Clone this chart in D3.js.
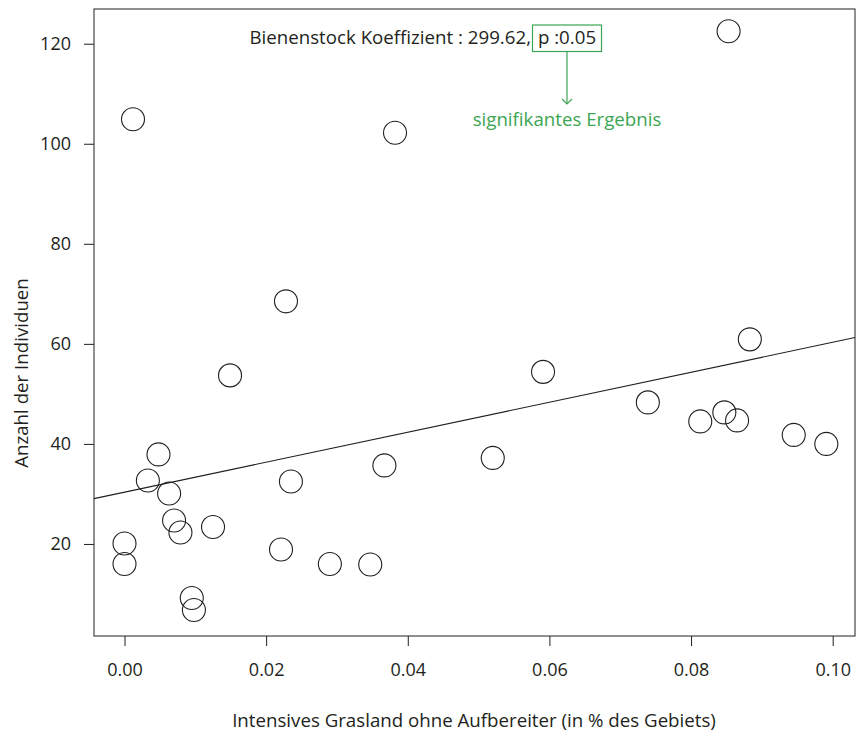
<!DOCTYPE html>
<html>
<head>
<meta charset="utf-8">
<script src="https://cdn.jsdelivr.net/npm/d3@7"></script>
<style>
  body { margin: 0; background: #fff; }
  text { font-family: "Open Sans", "Noto Sans", sans-serif; fill: #231f20; }
</style>
</head>
<body>
<div id="chart"></div>
<script>
const width = 858;
const height = 734;

// share of intensive grassland (x) and number of individuals (y)
const grassland = [0.0012, 0.0382, 0.0853, 0.0228, 0.0149, 0.0591, 0.0883, 0.0739, 0.0847,
    0.0813, 0.0865, 0.0945, 0.0991, 0.0520, 0.0367, 0.0235, 0.0048, 0.0033, 0.0063,
    0.0070, 0.0079, 0.0125, 0.0000, 0.0000, 0.0221, 0.0290, 0.0347, 0.0095, 0.0098];
const individuals = [104.9, 102.2, 122.5, 68.5, 53.7, 54.4, 60.9, 48.3, 46.3,
    44.5, 44.7, 41.8, 40.0, 37.2, 35.7, 32.5, 37.9, 32.7, 30.1,
    24.7, 22.3, 23.4, 20.1, 16.0, 18.9, 16.0, 15.9, 9.2, 6.8];

const xTicks = [0, 0.02, 0.04, 0.06, 0.08, 0.10];
const yTicks = [20, 40, 60, 80, 100, 120];

// fitted line
const intercept = 30.35;
const slope = 299.62;

const plot = { left: 94, right: 855, top: 9, bottom: 636 };

const svg = d3.select("#chart")
    .append("svg")
    .attr("width", width)
    .attr("height", height);

const x = d3.scaleLinear()
    .domain([-0.004307, 0.10315])
    .range([plot.left, plot.right]);

const y = d3.scaleLinear()
    .domain([1.6, 126.94])
    .range([plot.bottom, plot.top]);

// box
svg.append("rect")
    .attr("x", plot.left)
    .attr("y", plot.top)
    .attr("width", plot.right - plot.left)
    .attr("height", plot.bottom - plot.top)
    .attr("fill", "none")
    .attr("stroke", "#231f20")
    .attr("stroke-width", 1);

const xAxis = svg.append("g")
    .attr("transform", `translate(0,${plot.bottom})`)
    .call(d3.axisBottom(x).tickValues(xTicks).tickFormat(d3.format(".2f"))
        .tickSize(10).tickSizeOuter(0).tickPadding(17));

const yAxis = svg.append("g")
    .attr("transform", `translate(${plot.left},0)`)
    .call(d3.axisLeft(y).tickValues(yTicks).tickFormat(d3.format("d"))
        .tickSize(10).tickSizeOuter(0).tickPadding(13));

[xAxis, yAxis].forEach(g => {
    g.select(".domain").remove();
    g.selectAll(".tick line").attr("stroke", "#231f20");
    g.selectAll(".tick text")
        .attr("font-family", null)
        .attr("font-size", "18px")
        .attr("fill", "#231f20");
});

// regression line
const lineData = x.domain().map(v => [v, intercept + slope * v]);
svg.append("path")
    .attr("d", d3.line().x(d => x(d[0])).y(d => y(d[1]))(lineData))
    .attr("fill", "none")
    .attr("stroke", "#231f20")
    .attr("stroke-width", 1.1);

// points
svg.selectAll("circle.pt")
    .data(grassland.map((g, i) => [g, individuals[i]]))
    .enter()
    .append("circle")
    .attr("class", "pt")
    .attr("cx", d => x(d[0]))
    .attr("cy", d => y(d[1]))
    .attr("r", 11.5)
    .attr("fill", "none")
    .attr("stroke", "#231f20")
    .attr("stroke-width", 1.1);

// axis titles
svg.append("text")
    .attr("x", 474)
    .attr("y", 727)
    .attr("text-anchor", "middle")
    .attr("font-size", "18.7px")
    .text("Intensives Grasland ohne Aufbereiter (in % des Gebiets)");

svg.append("text")
    .attr("transform", "translate(28,373) rotate(-90)")
    .attr("text-anchor", "middle")
    .attr("font-size", "18.7px")
    .text("Anzahl der Individuen");

// annotation
const green = "#3da653";
svg.append("text")
    .attr("x", 531)
    .attr("y", 44)
    .attr("text-anchor", "end")
    .attr("font-size", "18.7px")
    .text("Bienenstock Koeffizient : 299.62,");

svg.append("rect")
    .attr("x", 532.5)
    .attr("y", 25)
    .attr("width", 69)
    .attr("height", 26.5)
    .attr("fill", "none")
    .attr("stroke", green)
    .attr("stroke-width", 1.2);

svg.append("text")
    .attr("x", 567)
    .attr("y", 44)
    .attr("text-anchor", "middle")
    .attr("font-size", "18.7px")
    .text("p :0.05");

svg.append("line")
    .attr("x1", 567).attr("y1", 51.5)
    .attr("x2", 567).attr("y2", 104)
    .attr("stroke", green)
    .attr("stroke-width", 1.2);

svg.append("path")
    .attr("d", "M562,99 L567,104 L572,99")
    .attr("fill", "none")
    .attr("stroke", green)
    .attr("stroke-width", 1.2);

svg.append("text")
    .attr("x", 567)
    .attr("y", 126)
    .attr("text-anchor", "middle")
    .attr("font-size", "18.7px")
    .style("fill", green)
    .text("signifikantes Ergebnis");
</script>
</body>
</html>
